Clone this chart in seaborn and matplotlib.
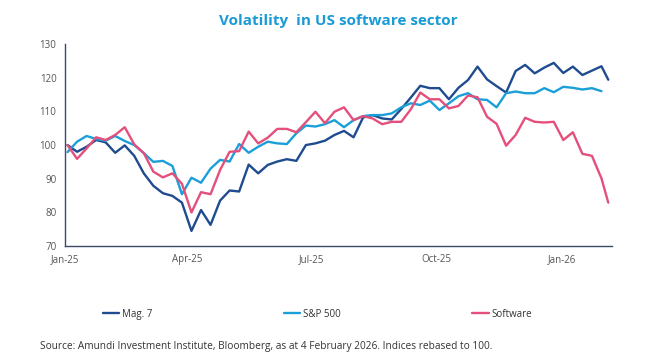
import numpy as np
import pandas as pd
import matplotlib
matplotlib.use("Agg")
import matplotlib.pyplot as plt
import matplotlib.dates as mdates
import seaborn as sns

# Weekly observations (Fridays) plus the last reading on 4 Feb 2026
dates = list(pd.date_range("2025-01-03", "2026-01-30", freq="7D")) + [pd.Timestamp("2026-02-04")]

mag7 = [100, 98, 99.5, 101.5, 100.8, 97.7, 99.9, 96.8, 91.6, 87.9,
        85.7, 84.9, 82.9, 74.5, 80.7, 76.3, 83.5, 86.5, 86.2, 94.2,
        91.6, 94.1, 95.1, 95.8, 95.3, 100, 100.5, 101.3, 103, 104.2,
        102.3, 108.2, 108.9, 107.9, 107.6, 110.7, 114.1, 117.6, 116.9, 116.9,
        113.6, 117, 119.3, 123.3, 119.5, 117.5, 115.6, 122, 123.8, 121.3,
        123, 124.4, 121.4, 123.3, 120.8, 122.1, 123.4, 119.4]

sp500 = [97.9, 101, 102.7, 101.8, 101.3, 102.7, 101.2, 100, 97.6, 95,
         95.3, 93.8, 85.4, 90.3, 88.8, 93, 95.6, 95.1, 100.3, 97.7,
         99.5, 101, 100.5, 100.3, 103.5, 105.8, 105.5, 106.2, 107.4, 105.3,
         107.4, 108.6, 108.9, 108.9, 109.4, 111.2, 112.4, 111.9, 113.2, 110.4,
         112.4, 114.5, 115.4, 113.6, 113.4, 111.2, 115.4, 115.9, 115.4, 115.4,
         116.9, 115.7, 117.3, 117, 116.5, 116.9, 116, np.nan]

software = [100, 95.9, 99, 102.3, 101.5, 103, 105.3, 100.2, 97.6, 92.1,
            90.4, 91.6, 88.5, 80, 86, 85.4, 92.6, 98, 98.2, 104,
            100.5, 102.2, 104.8, 104.8, 103.8, 106.8, 109.9, 106.5, 109.9, 111.2,
            107.4, 108.6, 107.9, 106.2, 106.9, 106.9, 110.6, 115.6, 113.6, 113.6,
            110.9, 111.6, 114.7, 114.2, 108.4, 106.3, 99.8, 103, 108.1, 106.9,
            106.7, 106.9, 101.5, 103.8, 97.4, 96.8, 90.1, 82.9]

series = ["Mag. 7", "S&P 500", "Software"]
colors = ["#1f4b8f", "#1b9fd8", "#e44f7b"]

df = pd.DataFrame({"Date": dates, "Mag. 7": mag7, "S&P 500": sp500, "Software": software})
long_df = df.melt(id_vars="Date", var_name="Index", value_name="Value").dropna()

sns.set_style("white")
plt.rcParams["font.family"] = ["Open Sans", "DejaVu Sans"]

fig = plt.figure(figsize=(6.48, 3.64), dpi=100)
ax = fig.add_axes([0.100, 0.324, 0.845, 0.555])

sns.lineplot(data=long_df, x="Date", y="Value", hue="Index", hue_order=series,
             palette=colors, linewidth=1.7, ax=ax, legend=False)

ax.set_ylim(70, 130)
ax.set_yticks(range(70, 131, 10))
ax.set_xlim(pd.Timestamp("2025-01-01"), pd.Timestamp("2026-02-07"))
ax.xaxis.set_major_locator(mdates.MonthLocator(bymonth=[1, 4, 7, 10]))
ax.xaxis.set_major_formatter(mdates.DateFormatter("%b-%y"))
ax.set_xlabel("")
ax.set_ylabel("")

spine_color = "#3d4b66"
sns.despine(ax=ax)
for side in ["left", "bottom"]:
    ax.spines[side].set_color(spine_color)
    ax.spines[side].set_linewidth(1.0)
ax.tick_params(axis="both", direction="out", length=4, width=0.9, color=spine_color,
               labelsize=7, labelcolor="#555555", pad=2)

ax.set_title("Volatility  in US software sector", fontsize=11, fontweight="bold",
             color="#1a9ad6", pad=14)

handles = [plt.Line2D([], [], color=c, linewidth=1.7) for c in colors]
fig.legend(handles, series, loc="center left", bbox_to_anchor=(0.145, 0.137), ncol=3,
           frameon=False, fontsize=7, handlelength=1.7, handletextpad=0.3,
           columnspacing=13.5, labelcolor="#333333")

fig.text(0.062, 0.04, "Source: Amundi Investment Institute, Bloomberg, as at 4 February 2026. "
         "Indices rebased to 100.", fontsize=7.3, color="#333333")

fig.savefig("out.png", dpi=100)
